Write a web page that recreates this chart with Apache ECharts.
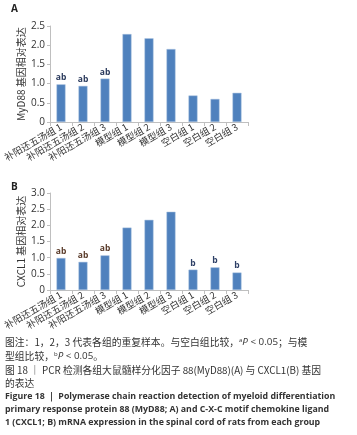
<!DOCTYPE html>
<html>
<head>
<meta charset="utf-8">
<script src="https://cdn.jsdelivr.net/npm/echarts@6/dist/echarts.min.js"></script>
<style>
  html, body { margin: 0; padding: 0; background: #fff; }
  #chart { width: 357px; height: 435px; }
</style>
</head>
<body>
<div id="chart"></div>
<script>
// groups
var categories = ['补阳还五汤组 1', '补阳还五汤组 2', '补阳还五汤组 3', '模型组 1', '模型组 2', '模型组 3', '空白组 1', '空白组 2', '空白组 3']
// panel A: MyD88
var myd88Values = [0.98, 0.94, 1.13, 2.29, 2.18, 1.90, 0.69, 0.60, 0.76]
var myd88Marks = ['ab', 'ab', 'ab', '', '', '', '', '', '']
// panel B: CXCL1
var cxcl1Values = [0.99, 0.87, 1.07, 1.93, 2.17, 2.42, 0.63, 0.70, 0.54]
var cxcl1Marks = ['ab', 'ab', 'ab', '', '', '', 'b', 'b', 'b']
var yTicksA = { min: 0, max: 2.5, interval: 0.5 }
var yTicksB = { min: 0, max: 3.0, interval: 0.5 }

var cjk = '"Noto Sans CJK SC", "Noto Sans", sans-serif'
var barColor = '#4f81bd'

function buildData (vals, marks, markCol) {
  return vals.map(function (v, i) {
    return {
      value: v,
      label: {
        show: marks[i] !== '',
        formatter: marks[i],
        color: markCol ? markCol(marks[i]) : '#2a3a5c'
      }
    }
  })
}

function xAxisOpt (grid) {
  return {
    type: 'category',
    gridIndex: grid,
    data: categories,
    axisLine: { lineStyle: { color: '#bfbfbf' } },
    axisTick: { show: true, alignWithLabel: false, length: 4, lineStyle: { color: '#bfbfbf' } },
    axisLabel: {
      interval: 0,
      rotate: 30,
      fontSize: 9.5,
      color: '#333',
      fontFamily: cjk,
      margin: 4
    }
  }
}

function yAxisOpt (grid, t, name) {
  return {
    type: 'value',
    gridIndex: grid,
    min: t.min,
    max: t.max,
    interval: t.interval,
    name: name,
    nameLocation: 'middle',
    nameGap: 24,
    nameMoveOverlap: false,
    nameTextStyle: { fontSize: 10, color: '#333', fontFamily: cjk },
    splitLine: { show: false },
    axisLine: { show: true, lineStyle: { color: '#bfbfbf' } },
    axisTick: { show: true, length: 3, lineStyle: { color: '#bfbfbf' } },
    axisLabel: {
      fontSize: 10,
      color: '#333',
      margin: 5,
      fontFamily: '"Open Sans", sans-serif',
      formatter: function (v) { return v === 0 ? '0' : v.toFixed(1) }
    }
  }
}

var capStyle = { fontSize: 9.8, fill: '#333', fontFamily: cjk }
var enStyle = { fontSize: 8.8, fill: '#333', fontFamily: '"Open Sans", sans-serif', fontWeight: 'bold' }

function capText (y, text, st, rich) {
  return {
    type: 'text',
    left: 5,
    top: y,
    style: Object.assign({ text: text, rich: rich || {} }, st)
  }
}

var supRich = {
  sup: { fontSize: 6, verticalAlign: 'top', fill: '#333', fontFamily: '"Open Sans", sans-serif', padding: [0, 0, 4, 0] },
  it: { fontSize: 9.8, fontStyle: 'italic', fill: '#333', fontFamily: '"Open Sans", sans-serif' },
  n: { fontSize: 9.8, fill: '#333', fontFamily: '"Open Sans", sans-serif' }
}

var chart = echarts.init(document.getElementById('chart'))
chart.setOption({
  animation: false,
  grid: [
    { left: 50, top: 26, width: 198, height: 96 },
    { left: 50, top: 193, width: 198, height: 97 }
  ],
  xAxis: [xAxisOpt(0), xAxisOpt(1)],
  yAxis: [
    yAxisOpt(0, yTicksA, 'MyD88 基因相对表达'),
    yAxisOpt(1, yTicksB, 'CXCL1 基因相对表达')
  ],
  series: [
    {
      type: 'bar',
      xAxisIndex: 0,
      yAxisIndex: 0,
      barWidth: 9,
      itemStyle: { color: barColor, borderColor: '#a9c0de', borderWidth: 0.5 },
      label: { position: 'top', distance: 2, fontSize: 8.5, fontWeight: 'bold', fontFamily: '"Open Sans", sans-serif' },
      data: buildData(myd88Values, myd88Marks)
    },
    {
      type: 'bar',
      xAxisIndex: 1,
      yAxisIndex: 1,
      barWidth: 9,
      itemStyle: { color: barColor, borderColor: '#a9c0de', borderWidth: 0.5 },
      label: { position: 'top', distance: 2, fontSize: 8.5, fontWeight: 'bold', fontFamily: '"Open Sans", sans-serif' },
      data: buildData(cxcl1Values, cxcl1Marks, function (m) { return m === 'b' ? '#2d3f66' : '#5a3b2a' })
    }
  ],
  graphic: [
    { type: 'text', left: 11, top: 4, style: { text: 'A', fontSize: 10, fontWeight: 'bold', fill: '#222', fontFamily: '"Open Sans", sans-serif' } },
    { type: 'text', left: 11, top: 182, style: { text: 'B', fontSize: 10, fontWeight: 'bold', fill: '#222', fontFamily: '"Open Sans", sans-serif' } },
    capText(337, '图注：1，2，3 代表各组的重复样本。与空白组比较，{sup|a}{it|P}{n| < 0.05}；与模', capStyle, supRich),
    capText(351, '型组比较，{sup|b}{it|P}{n| < 0.05}。', capStyle, supRich),
    capText(365, '图 18 ｜ PCR 检测各组大鼠髓样分化因子 88(MyD88)(A) 与 CXCL1(B) 基因', capStyle),
    capText(378, '的表达', capStyle),
    capText(392, 'Figure 18 ｜ Polymerase chain reaction detection of myeloid differentiation', enStyle),
    capText(405, 'primary response protein 88 (MyD88; A) and C-X-C motif chemokine ligand', enStyle),
    capText(418, '1 (CXCL1; B) mRNA expression in the spinal cord of rats from each group', enStyle)
  ]
})
</script>
</body>
</html>
